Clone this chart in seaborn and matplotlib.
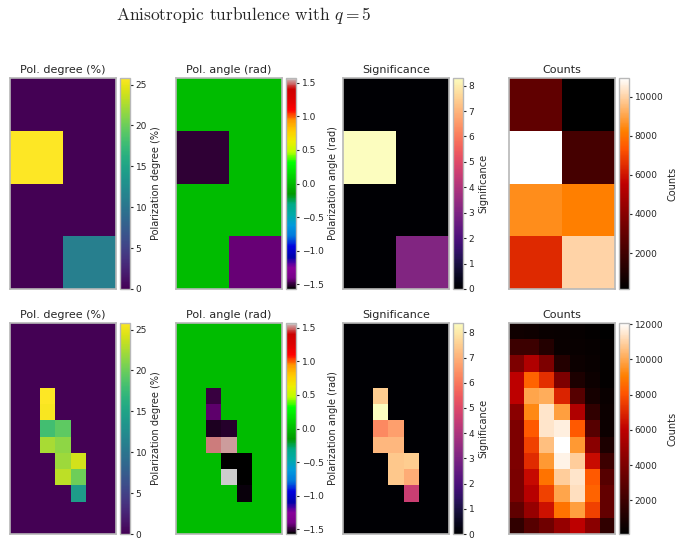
import numpy as np
import matplotlib
matplotlib.use("Agg")
import matplotlib.pyplot as plt
import seaborn as sns

# ---- coarse binning (4 x 2) ----
coarse_degree = [[0.0, 0.0], [25.8, 0.0], [0.0, 0.0], [0.0, 11.0]]
coarse_angle = [[0.0, 0.0], [-1.50, 0.0], [0.0, 0.0], [0.0, -1.43]]
coarse_signif = [[0.0, 0.0], [8.3, 0.0], [0.0, 0.0], [0.0, 3.1]]
coarse_counts = [[2860, 160], [10955, 2100], [8530, 8250], [6420, 9990]]

# ---- fine binning (13 x 7) ----
fine_degree = [
    [0, 0, 0, 0, 0, 0, 0],
    [0, 0, 0, 0, 0, 0, 0],
    [0, 0, 0, 0, 0, 0, 0],
    [0, 0, 0, 0, 0, 0, 0],
    [0, 0, 25.8, 0, 0, 0, 0],
    [0, 0, 25.5, 0, 0, 0, 0],
    [0, 0, 18.0, 19.4, 0, 0, 0],
    [0, 0, 22.4, 21.4, 0, 0, 0],
    [0, 0, 0, 22.0, 24.0, 0, 0],
    [0, 0, 0, 23.2, 20.1, 0, 0],
    [0, 0, 0, 0, 14.2, 0, 0],
    [0, 0, 0, 0, 0, 0, 0],
    [0, 0, 0, 0, 0, 0, 0],
]
fine_angle = [
    [0, 0, 0, 0, 0, 0, 0],
    [0, 0, 0, 0, 0, 0, 0],
    [0, 0, 0, 0, 0, 0, 0],
    [0, 0, 0, 0, 0, 0, 0],
    [0, 0, -1.49, 0, 0, 0, 0],
    [0, 0, -1.445, 0, 0, 0, 0],
    [0, 0, -1.53, -1.51, 0, 0, 0],
    [0, 0, 1.50, 1.53, 0, 0, 0],
    [0, 0, 0, -1.57, -1.565, 0, 0],
    [0, 0, 0, 1.565, -1.56, 0, 0],
    [0, 0, 0, 0, -1.55, 0, 0],
    [0, 0, 0, 0, 0, 0, 0],
    [0, 0, 0, 0, 0, 0, 0],
]
fine_signif = [
    [0, 0, 0, 0, 0, 0, 0],
    [0, 0, 0, 0, 0, 0, 0],
    [0, 0, 0, 0, 0, 0, 0],
    [0, 0, 0, 0, 0, 0, 0],
    [0, 0, 7.5, 0, 0, 0, 0],
    [0, 0, 8.37, 0, 0, 0, 0],
    [0, 0, 6.3, 6.7, 0, 0, 0],
    [0, 0, 7.1, 7.1, 0, 0, 0],
    [0, 0, 0, 7.4, 7.5, 0, 0],
    [0, 0, 0, 7.4, 6.9, 0, 0],
    [0, 0, 0, 0, 4.6, 0, 0],
    [0, 0, 0, 0, 0, 0, 0],
    [0, 0, 0, 0, 0, 0, 0],
]
fine_counts = [
    [650, 560, 400, 350, 300, 200, 100],
    [2000, 2000, 1200, 400, 350, 300, 200],
    [4000, 5600, 4000, 1200, 500, 350, 200],
    [6000, 8400, 7200, 4000, 1000, 500, 200],
    [6000, 9950, 10100, 6900, 2800, 800, 400],
    [4400, 9300, 11450, 9800, 5600, 1600, 500],
    [4000, 8150, 11450, 11650, 8150, 2800, 500],
    [4000, 7600, 10550, 12060, 9650, 4400, 1000],
    [4000, 7100, 9650, 11750, 10850, 6350, 2000],
    [3900, 6300, 8750, 10850, 11450, 8150, 2800],
    [3900, 5800, 7600, 9950, 11300, 8400, 3200],
    [3050, 4800, 6500, 8750, 9800, 7600, 3200],
    [1600, 2800, 3600, 4800, 6000, 4400, 1600],
]

panel_titles = ["Pol. degree (%)", "Pol. angle (rad)", "Significance", "Counts"]
cbar_labels = ["Polarization degree (%)", "Polarization angle (rad)", "Significance", "Counts"]
cmaps = ["viridis", "nipy_spectral", "magma", "gist_heat"]
half_pi = np.pi / 2
limits = [(0, None), (-half_pi, half_pi), (0, None), (None, None)]
ticks_top = [
    [0, 5, 10, 15, 20, 25],
    [-1.5, -1.0, -0.5, 0.0, 0.5, 1.0, 1.5],
    [0, 1, 2, 3, 4, 5, 6, 7, 8],
    [2000, 4000, 6000, 8000, 10000],
]
ticks_bottom = [
    [0, 5, 10, 15, 20, 25],
    [-1.5, -1.0, -0.5, 0.0, 0.5, 1.0, 1.5],
    [0, 1, 2, 3, 4, 5, 6, 7, 8],
    [2000, 4000, 6000, 8000, 10000, 12000],
]

sns.set_style("white")
plt.rcParams["mathtext.fontset"] = "cm"
plt.rcParams["font.family"] = ["DejaVu Sans"]

W, H = 694, 538
fig = plt.figure(figsize=(W / 100, H / 100), dpi=100)

col_x = [10, 176, 343, 509]
img_w, img_h = 106, 211
cb_gap, cb_w = 4, 10
row_top = [78, 323]
edge = "0.72"


def to_fig(x, top, w, h):
    return [x / W, 1 - (top + h) / H, w / W, h / H]


rows = [
    ([coarse_degree, coarse_angle, coarse_signif, coarse_counts], ticks_top),
    ([fine_degree, fine_angle, fine_signif, fine_counts], ticks_bottom),
]

for r, (maps, ticks) in enumerate(rows):
    for c, data in enumerate(maps):
        ax = fig.add_axes(to_fig(col_x[c], row_top[r], img_w, img_h))
        cax = fig.add_axes(to_fig(col_x[c] + img_w + cb_gap, row_top[r], cb_w, img_h))
        vmin, vmax = limits[c]
        sns.heatmap(
            np.array(data, dtype=float), ax=ax, cbar_ax=cax, cmap=cmaps[c],
            vmin=vmin, vmax=vmax, xticklabels=False, yticklabels=False,
            cbar_kws={"ticks": ticks[c]},
        )
        ax.set_title(panel_titles[c], fontsize=8, color=".15", pad=3.5)
        for sp in ax.spines.values():
            sp.set_visible(True)
            sp.set_color(edge)
            sp.set_linewidth(1.2)
        cb = ax.collections[0].colorbar
        cb.outline.set_visible(True)
        cb.outline.set_linewidth(1.0)
        cb.outline.set_edgecolor(edge)
        cb.set_label(cbar_labels[c], fontsize=7, color=".15", labelpad=3)
        cax.tick_params(axis="y", which="both", right=True, length=2.5, width=0.8,
                        color=".15", labelsize=6.5, labelcolor=".15", pad=1.5)
        cax.minorticks_off()

fig.text(244 / W, 1 - 20 / H, r"Anisotropic turbulence with $q=5$",
         ha="center", va="baseline", fontsize=12.5, family="cmr10", color="0.15")

fig.savefig("out.png", dpi=100)
